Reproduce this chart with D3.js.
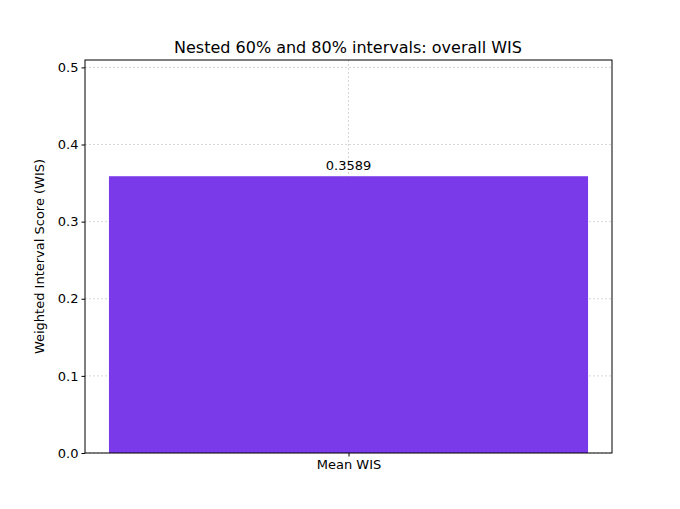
<!DOCTYPE html><html><head><meta charset="utf-8"><script src="https://cdn.jsdelivr.net/npm/d3@7"></script>
<style>body{margin:0;background:#fff}text{font-family:"DejaVu Sans",sans-serif}</style></head><body>
<svg id="c" width="680" height="509"></svg>
<script>
const categories=["Mean WIS"];
const values=[0.3589];
const yTicks=[0,0.1,0.2,0.3,0.4,0.5];
const svg=d3.select("#c");
const L=85,R=612,T=60,B=453;
const x=d3.scaleLinear().domain([-0.44,0.44]).range([L,R]);
const y=d3.scaleLinear().domain([0,0.5096]).range([B,T]);
const g=svg.append("g");
yTicks.forEach(t=>g.append("line").attr("x1",L).attr("x2",R).attr("y1",y(t)).attr("y2",y(t)).attr("stroke","#ccc").attr("stroke-dasharray","2,2").attr("stroke-width",0.8));
g.append("line").attr("x1",x(0)).attr("x2",x(0)).attr("y1",T).attr("y2",B).attr("stroke","#ccc").attr("stroke-dasharray","2,2").attr("stroke-width",0.8);
categories.forEach((c,i)=>{
 g.append("rect").attr("x",x(i-0.4)).attr("width",x(i+0.4)-x(i-0.4)).attr("y",y(values[i])).attr("height",B-y(values[i])).attr("fill","#7b3aea");
 g.append("text").attr("x",x(i)).attr("y",y(values[i])-6).attr("text-anchor","middle").attr("font-size",13).text(values[i].toFixed(4));
});
g.append("rect").attr("x",L).attr("y",T).attr("width",R-L).attr("height",B-T).attr("fill","none").attr("stroke","#000").attr("stroke-width",1);
const ya=svg.append("g").attr("transform",`translate(${L},0)`).call(d3.axisLeft(y).tickValues(yTicks).tickFormat(d3.format(".1f")).tickSize(3.5).tickSizeOuter(0));
const xa=svg.append("g").attr("transform",`translate(0,${B})`).call(d3.axisBottom(x).tickValues([0]).tickFormat((d,i)=>categories[i]).tickSize(3.5).tickSizeOuter(0));
[ya,xa].forEach(a=>{a.select(".domain").remove();a.selectAll("text").attr("font-size",13).attr("fill","#000").style("font-family","DejaVu Sans");});
svg.append("text").attr("x",348).attr("y",53).attr("text-anchor","middle").attr("font-size",16).text("Nested 60% and 80% intervals: overall WIS");
svg.append("text").attr("transform",`translate(44,${(T+B)/2}) rotate(-90)`).attr("text-anchor","middle").attr("font-size",13).text("Weighted Interval Score (WIS)");
</script></body></html>
